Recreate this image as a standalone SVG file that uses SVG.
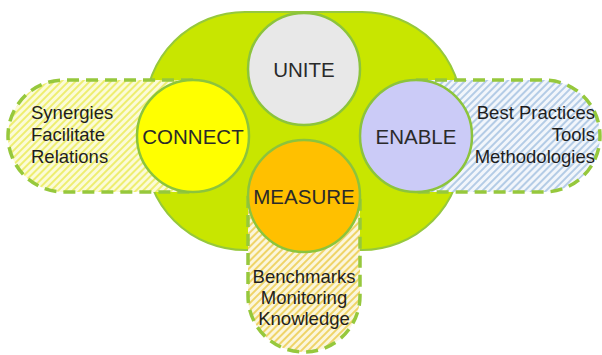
<svg xmlns="http://www.w3.org/2000/svg" width="602" height="355" viewBox="0 0 602 355">
<style>
.circ{stroke:#8cc43c;stroke-width:2.5}
.pill{stroke:#96c83c;stroke-width:3.5;stroke-dasharray:12 7}
.lbl{font-family:"Liberation Sans",Arial,sans-serif;font-size:20.5px;fill:#2a2a2a;text-anchor:middle}
.txt{font-family:"Liberation Sans",Arial,sans-serif;font-size:18.5px;fill:#1e1e1e}
</style>
<defs>
<pattern id="hy" width="5" height="5" patternUnits="userSpaceOnUse" patternTransform="rotate(45)">
<rect width="5" height="5" fill="#fbfbd8"/><rect width="2" height="5" fill="#eeee70"/>
</pattern>
<pattern id="ho" width="5" height="5" patternUnits="userSpaceOnUse" patternTransform="rotate(45)">
<rect width="5" height="5" fill="#fbf6dc"/><rect width="2" height="5" fill="#efd468"/>
</pattern>
<pattern id="hb" width="5" height="5" patternUnits="userSpaceOnUse" patternTransform="rotate(45)">
<rect width="5" height="5" fill="#f2f6fb"/><rect width="2" height="5" fill="#b4cce6"/>
</pattern>
</defs>
<g id="hub">
<rect x="145" y="12" width="317" height="238" rx="100" ry="100" fill="#c8e600" stroke="#96c83c" stroke-width="2"/>
</g>
<g id="connectors">
<path class="pill" d="M193 80 H64 A56 56 0 0 0 64 192 H193" fill="url(#hy)"/>
<path class="pill" d="M416 80 H544 A56 56 0 0 1 544 192 H416" fill="url(#hb)"/>
<path class="pill" d="M248 196 V296 A56 56 0 0 0 360 296 V196" fill="url(#ho)"/>
</g>
<g id="unite">
<circle class="circ" cx="304" cy="69" r="56" fill="#e8e8e8"/>
<text class="lbl" x="304" y="77">UNITE</text>
</g>
<g id="connect">
<circle class="circ" cx="193" cy="136" r="56" fill="#ffff00"/>
<text class="lbl" x="193" y="144">CONNECT</text>
<text class="txt" x="31" y="119">Synergies</text>
<text class="txt" x="31" y="141">Facilitate</text>
<text class="txt" x="31" y="163">Relations</text>
</g>
<g id="enable">
<circle class="circ" cx="416" cy="136" r="56" fill="#cbcbf7"/>
<text class="lbl" x="416" y="144">ENABLE</text>
<text class="txt" x="595" y="119" text-anchor="end">Best Practices</text>
<text class="txt" x="595" y="141" text-anchor="end">Tools</text>
<text class="txt" x="595" y="163" text-anchor="end">Methodologies</text>
</g>
<g id="measure">
<circle class="circ" cx="304" cy="196" r="56" fill="#ffc000"/>
<text class="lbl" x="304" y="204">MEASURE</text>
<text class="txt" x="304" y="283" text-anchor="middle">Benchmarks</text>
<text class="txt" x="304" y="304" text-anchor="middle">Monitoring</text>
<text class="txt" x="304" y="325" text-anchor="middle">Knowledge</text>
</g>
</svg>
